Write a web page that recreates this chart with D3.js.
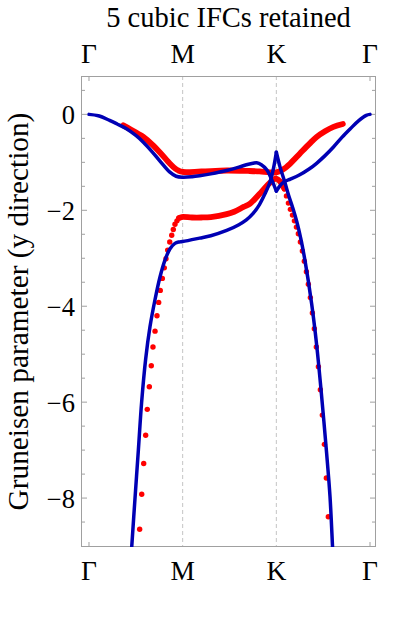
<!DOCTYPE html>
<html>
<head>
<meta charset="utf-8">
<script src="https://cdn.jsdelivr.net/npm/d3@7"></script>
<style>
  html, body { margin: 0; padding: 0; background: #fff; }
  svg { display: block; }
</style>
</head>
<body>
<svg id="chart" width="420" height="624"></svg>
<script>
'use strict';

// ---- data (x: path index Γ=0, M=1, K=2, Γ=3 ; y: Gruneisen parameter) ----
const title = '5 cubic IFCs retained';
const yLabel = 'Gruneisen parameter (y direction)';
const pathLabels = ['Γ', 'M', 'K', 'Γ'];
const pathTicks = [0, 1, 2, 3];
const yMajorTicks = [0, -2, -4, -6, -8];
const yMinorTicks = [0.5, -0.5, -1, -1.5, -2.5, -3, -3.5, -4.5, -5, -5.5, -6.5, -7, -7.5, -8.5];

// blue lines (fit), split at K so the cusps stay sharp
const blueUpperLeft = [
  [0, 0], [0.1, -0.03], [0.22, -0.125], [0.3, -0.2], [0.4, -0.3], [0.5, -0.44],
  [0.58, -0.58], [0.67, -0.77], [0.76, -0.98], [0.86, -1.2], [0.93, -1.29],
  [1.0, -1.31], [1.1, -1.3], [1.18, -1.28], [1.3, -1.24], [1.47, -1.17],
  [1.6, -1.1], [1.68, -1.05], [1.75, -1.02], [1.79, -1.01], [1.84, -1.05],
  [1.9, -1.16], [1.95, -1.36], [2.0, -1.6]
];
const blueUpperRight = [
  [2.0, -1.6], [2.05, -1.46], [2.1, -1.39], [2.15, -1.35], [2.25, -1.26],
  [2.35, -1.14], [2.43, -1.02], [2.52, -0.86], [2.61, -0.68], [2.7, -0.48],
  [2.79, -0.3], [2.88, -0.13], [2.96, -0.02], [3.0, 0]
];
const blueLowerLeft = [
  [0.445, -9.4], [0.455, -9.05], [0.49, -8.04], [0.527, -7.0], [0.562, -6.0],
  [0.605, -5.1], [0.651, -4.43], [0.705, -3.86], [0.758, -3.39], [0.811, -3.04],
  [0.865, -2.8], [0.918, -2.69], [0.96, -2.66], [1.0, -2.65], [1.18, -2.58],
  [1.3, -2.53], [1.47, -2.42], [1.6, -2.3], [1.68, -2.2], [1.75, -2.07],
  [1.82, -1.88], [1.88, -1.65], [1.93, -1.42], [1.97, -1.12], [2.0, -0.79]
];
const blueLowerRight = [
  [2.0, -0.79], [2.04, -1.1], [2.09, -1.41], [2.13, -1.68], [2.18, -1.98],
  [2.22, -2.25], [2.26, -2.58], [2.306, -3.05], [2.377, -3.95], [2.43, -4.8],
  [2.48, -5.8], [2.537, -7.07], [2.573, -7.97], [2.6, -9.01], [2.61, -9.4]
];

// red points (data); dense stretches merge into a solid band
const redUpperBand = [
  [0.366, -0.23], [0.45, -0.32], [0.52, -0.4], [0.58, -0.47], [0.67, -0.62],
  [0.76, -0.8], [0.865, -1.03], [0.92, -1.13], [0.953, -1.17], [1.0, -1.2],
  [1.2, -1.19], [1.47, -1.17], [1.7, -1.18], [1.82, -1.19], [1.93, -1.21],
  [2.0, -1.21], [2.07, -1.15], [2.146, -1.03], [2.25, -0.82], [2.35, -0.62],
  [2.43, -0.47], [2.52, -0.35], [2.61, -0.26], [2.71, -0.2]
];
const redLowerBand = [
  [0.961, -2.16], [0.99, -2.14], [1.1, -2.15], [1.2, -2.15], [1.3, -2.14],
  [1.47, -2.08], [1.55, -2.03], [1.65, -1.93], [1.72, -1.86], [1.82, -1.66],
  [1.88, -1.53], [1.93, -1.43], [1.97, -1.36], [2.0, -1.34], [2.04, -1.4],
  [2.086, -1.55]
];
const redLowerLeftDots = [
  [0.541, -8.65], [0.563, -7.92], [0.584, -7.28], [0.605, -6.69], [0.622, -6.15],
  [0.644, -5.68], [0.665, -5.24], [0.683, -4.85], [0.705, -4.52], [0.726, -4.2],
  [0.744, -3.92], [0.761, -3.67], [0.783, -3.42], [0.804, -3.2], [0.822, -3.01],
  [0.84, -2.83], [0.862, -2.66], [0.883, -2.52], [0.9, -2.4], [0.918, -2.29],
  [0.939, -2.22], [0.961, -2.16]
];
const redLowerRightDots = [
  [2.086, -1.55], [2.108, -1.7], [2.129, -1.85], [2.15, -1.98], [2.172, -2.1],
  [2.193, -2.22], [2.214, -2.35], [2.235, -2.49], [2.257, -2.66], [2.278, -2.85],
  [2.299, -3.06], [2.321, -3.28], [2.342, -3.54], [2.363, -3.82], [2.385, -4.14],
  [2.406, -4.47], [2.427, -4.85], [2.449, -5.26], [2.47, -5.74], [2.491, -6.27],
  [2.513, -6.88], [2.534, -7.58], [2.555, -8.39]
];

// ---- layout ----
const FONT = '"Liberation Serif", "Times New Roman", Times, serif';
const BLUE = '#0000b4';
const RED = '#ff0000';
const FRAME = '#a0a0a0';
const plot = { left: 81, right: 376, top: 76, bottom: 547 };

const svg = d3.select('#chart');
const x = d3.scaleLinear().domain([-0.0854, 3.064]).range([plot.left, plot.right]);
const y = d3.scaleLinear().domain([-9.02, 0.8]).range([plot.bottom, plot.top]);

svg.append('defs').append('clipPath').attr('id', 'plot-clip')
  .append('rect')
  .attr('x', plot.left).attr('y', plot.top)
  .attr('width', plot.right - plot.left).attr('height', plot.bottom - plot.top);

// title
svg.append('text')
  .attr('x', (plot.left + plot.right) / 2).attr('y', 27)
  .attr('text-anchor', 'middle')
  .attr('font-family', FONT).attr('font-size', 28.5)
  .text(title);

// y label
svg.append('text')
  .attr('transform', 'translate(28,' + ((plot.top + plot.bottom) / 2) + ') rotate(-90)')
  .attr('text-anchor', 'middle')
  .attr('font-family', FONT).attr('font-size', 29.3)
  .text(yLabel);

// dashed grid lines at M and K
svg.append('g').selectAll('line')
  .data(pathTicks.slice(1, 3))
  .join('line')
  .attr('x1', function (d) { return x(d); }).attr('x2', function (d) { return x(d); })
  .attr('y1', plot.top).attr('y2', plot.bottom)
  .attr('stroke', '#c4c4c4').attr('stroke-width', 1)
  .attr('stroke-dasharray', '4,3');

// frame ticks
const tickG = svg.append('g').attr('stroke', FRAME).attr('stroke-width', 1);
[pathTicks[0], pathTicks[3]].forEach(function (t) {
  tickG.append('line').attr('x1', x(t)).attr('x2', x(t)).attr('y1', plot.top).attr('y2', plot.top + 5);
  tickG.append('line').attr('x1', x(t)).attr('x2', x(t)).attr('y1', plot.bottom).attr('y2', plot.bottom - 5);
});
yMajorTicks.forEach(function (t) {
  tickG.append('line').attr('x1', plot.left).attr('x2', plot.left + 6).attr('y1', y(t)).attr('y2', y(t));
  tickG.append('line').attr('x1', plot.right).attr('x2', plot.right - 6).attr('y1', y(t)).attr('y2', y(t));
});
yMinorTicks.forEach(function (t) {
  tickG.append('line').attr('x1', plot.left).attr('x2', plot.left + 4).attr('y1', y(t)).attr('y2', y(t));
  tickG.append('line').attr('x1', plot.right).attr('x2', plot.right - 4).attr('y1', y(t)).attr('y2', y(t));
});

// frame
svg.append('rect')
  .attr('x', plot.left + 0.5).attr('y', plot.top + 0.5)
  .attr('width', plot.right - plot.left - 1).attr('height', plot.bottom - plot.top - 1)
  .attr('fill', 'none').attr('stroke', FRAME).attr('stroke-width', 1);

// tick labels
svg.append('g').selectAll('text')
  .data(yMajorTicks)
  .join('text')
  .attr('x', 75).attr('y', function (d) { return y(d) + 10; })
  .attr('text-anchor', 'end')
  .attr('font-family', FONT).attr('font-size', 26.5)
  .text(function (d) { return d < 0 ? '\u2212' + Math.abs(d) : String(d); });

[63, 580].forEach(function (base) {
  svg.append('g').selectAll('text')
    .data(pathTicks)
    .join('text')
    .attr('x', function (d) { return x(d); }).attr('y', base)
    .attr('text-anchor', 'middle')
    .attr('font-family', FONT).attr('font-size', 27.5)
    .text(function (d, i) { return pathLabels[i]; });
});

// data layer
const dataG = svg.append('g').attr('clip-path', 'url(#plot-clip)');
const line = d3.line()
  .x(function (d) { return x(d[0]); })
  .y(function (d) { return y(d[1]); })
  .curve(d3.curveCatmullRom.alpha(0.5));

[redUpperBand, redLowerBand].forEach(function (pts) {
  dataG.append('path')
    .attr('d', line(pts))
    .attr('fill', 'none').attr('stroke', RED)
    .attr('stroke-width', 5.8).attr('stroke-linecap', 'round').attr('stroke-linejoin', 'round');
});
dataG.append('g').selectAll('circle')
  .data(redLowerLeftDots.concat(redLowerRightDots))
  .join('circle')
  .attr('cx', function (d) { return x(d[0]); })
  .attr('cy', function (d) { return y(d[1]); })
  .attr('r', 2.7)
  .attr('fill', RED);

[blueUpperLeft, blueUpperRight, blueLowerLeft, blueLowerRight].forEach(function (pts) {
  dataG.append('path')
    .attr('d', line(pts))
    .attr('fill', 'none').attr('stroke', BLUE)
    .attr('stroke-width', 3.5).attr('stroke-linecap', 'round').attr('stroke-linejoin', 'miter');
});
</script>
</body>
</html>
